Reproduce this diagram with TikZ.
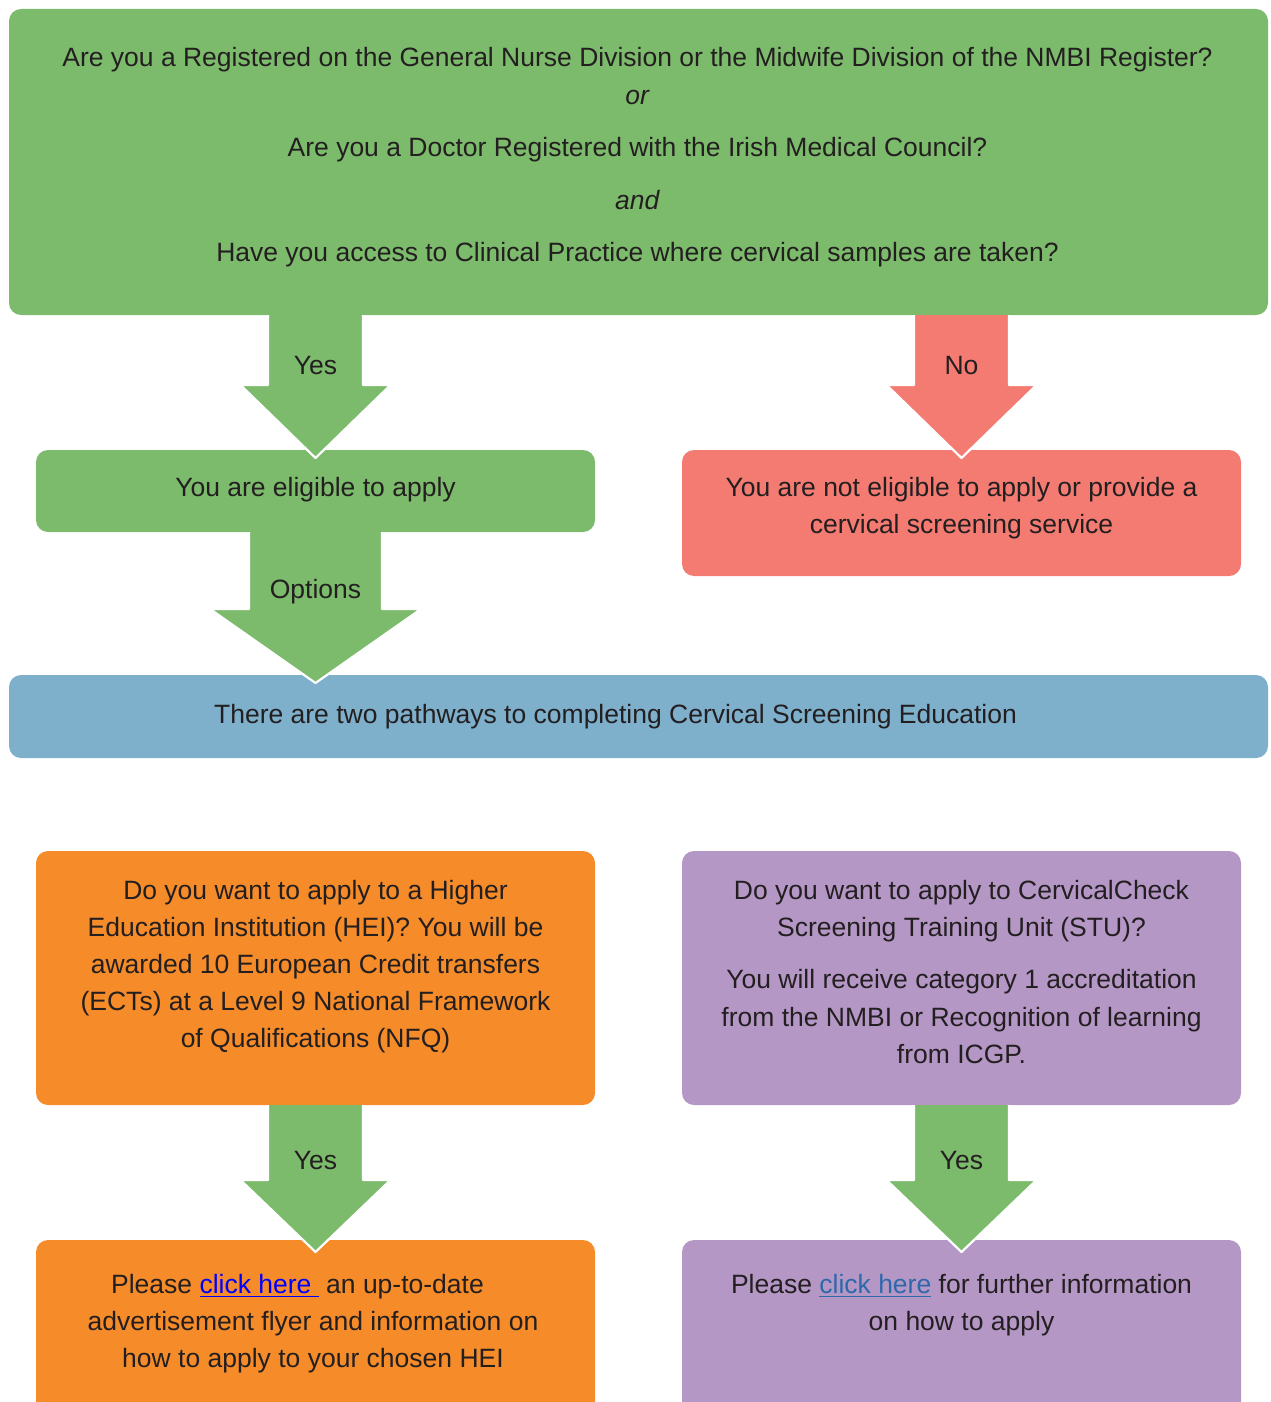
\documentclass[tikz,border=0pt]{standalone}
\usepackage{fontspec}
\setmainfont{Liberation Sans}
\usetikzlibrary{calc}
\definecolor{cgreen}{RGB}{125,187,108}
\definecolor{cred}{RGB}{244,123,114}
\definecolor{cblue}{RGB}{126,175,203}
\definecolor{corange}{RGB}{246,139,42}
\definecolor{cpurple}{RGB}{181,151,198}
\definecolor{txtc}{RGB}{35,31,32}
\definecolor{linkA}{RGB}{0,0,255}
\definecolor{linkB}{RGB}{45,105,170}
\newcommand{\myul}[1]{\setbox0\hbox{#1}\rlap{\rule[-3.5pt]{\wd0}{1.6pt}}\box0}
% block arrow: from, to, x-ref, shaft half width, head half width, head length, tip offset, colour, label
\newcommand{\barrow}[9]{%
  \coordinate (#1#2tip) at ($(#3.center |- #2.north)+(0,#7)$);
  \coordinate (#1#2top) at (#1.south -| #1#2tip);
  \fill[#8] ($(#1#2top)+(-#4,0)$) -- ($(#1#2tip)+(-#4,-#6)$) -- ($(#1#2tip)+(-#5,-#6)$) -- (#1#2tip)
     -- ($(#1#2tip)+(#5,-#6)$) -- ($(#1#2tip)+(#4,-#6)$) -- ($(#1#2top)+(#4,0)$) -- cycle;
  \draw[arrowedge] ($(#1#2top)+(-#4,0)$) -- ($(#1#2tip)+(-#4,-#6)$) -- ($(#1#2tip)+(-#5,-#6)$) -- (#1#2tip)
     -- ($(#1#2tip)+(#5,-#6)$) -- ($(#1#2tip)+(#4,-#6)$) -- ($(#1#2top)+(#4,0)$);
  \node[lbl] (#1#2lbl) at ($(#1#2tip)+(0,-#6-11)$) {#9};
}
\tikzset{
  box/.style={rectangle, rounded corners=12pt, inner sep=0pt, outer sep=0pt, draw=none},
  txt/.style={align=center, text=txtc, font=\fontsize{26.5pt}{37pt}\selectfont, inner sep=0pt},
  lbl/.style={text=txtc, font=\fontsize{26.5pt}{37pt}\selectfont, inner sep=0pt, anchor=base},
  arrowedge/.style={draw=white, line width=2.2pt, line join=round}
}
\begin{document}
\begin{tikzpicture}[x=1pt,y=-1pt]
\useasboundingbox (0,0) rectangle (1270,1402);
\clip (0,0) rectangle (1270,1402);
% boxes
\node[box, fill=cgreen, minimum width=1259pt, minimum height=306pt] (q) at (638.5,162) {};
\node[box, fill=cgreen, minimum width=559pt, minimum height=82pt] (elig) at (315.5,491) {};
\node[box, fill=cred, minimum width=559pt, minimum height=126pt] (notel) at (961.5,513) {};
\node[box, fill=cblue, minimum width=1259pt, minimum height=83pt] (path) at (638.5,716.5) {};
\node[box, fill=corange, minimum width=559pt, minimum height=254pt] (hei) at (315.5,978) {};
\node[box, fill=cpurple, minimum width=559pt, minimum height=254pt] (stu) at (961.5,978) {};
\node[box, fill=corange, minimum width=559pt, minimum height=180pt] (hei2) at (315.5,1330) {};
\node[box, fill=cpurple, minimum width=559pt, minimum height=180pt] (stu2) at (961.5,1330) {};
% texts
\node[txt] (qt) at (637.5,157.5) {Are you a Registered on the General Nurse Division or the Midwife Division of the NMBI Register?\\[1pt]
\textit{or}\\[15pt]
Are you a Doctor Registered with the Irish Medical Council?\\[16pt]
\textit{and}\\[15pt]
Have you access to Clinical Practice where cervical samples are taken?};
\node[txt] (eligt) at (315.5,490) {You are eligible to apply};
\node[txt] (notelt) at (961.5,508.5) {You are not eligible to apply or provide a\\cervical screening service};
\node[txt] (patht) at (615.5,717) {There are two pathways to completing Cervical Screening Education};
\node[txt] (heit) at (315.5,967) {Do you want to apply to a Higher\\Education Institution (HEI)? You will be\\awarded 10 European Credit transfers\\(ECTs) at a Level 9 National Framework\\of Qualifications (NFQ)};
\node[txt] (stut) at (961.5,972) {Do you want to apply to CervicalCheck\\Screening Training Unit (STU)?\\[15pt]
You will receive category 1 accreditation\\[1pt]
from the NMBI or Recognition of learning\\from ICGP.};
\node[txt] (hei2t) at (313,1324) {Please \textcolor{linkA}{\myul{click here\ }} an up-to-date\hspace*{31pt}\\advertisement flyer and information on\\how to apply to your chosen HEI};
\node[txt] (stu2t) at (961.5,1305.5) {Please \textcolor{linkB}{\myul{click here}} for further information\\on how to apply};
% arrows
\barrow{q}{elig}{elig}{47.5}{75}{73}{8}{cgreen}{Yes}
\barrow{q}{notel}{notel}{47.5}{75}{73}{8}{cred}{No}
\barrow{elig}{path}{elig}{66.5}{105.5}{74}{8}{cgreen}{Options}
\barrow{hei}{hei2}{hei}{47.5}{75}{72}{12}{cgreen}{Yes}
\barrow{stu}{stu2}{stu}{47.5}{75}{72}{12}{cgreen}{Yes}
\end{tikzpicture}
\end{document}
